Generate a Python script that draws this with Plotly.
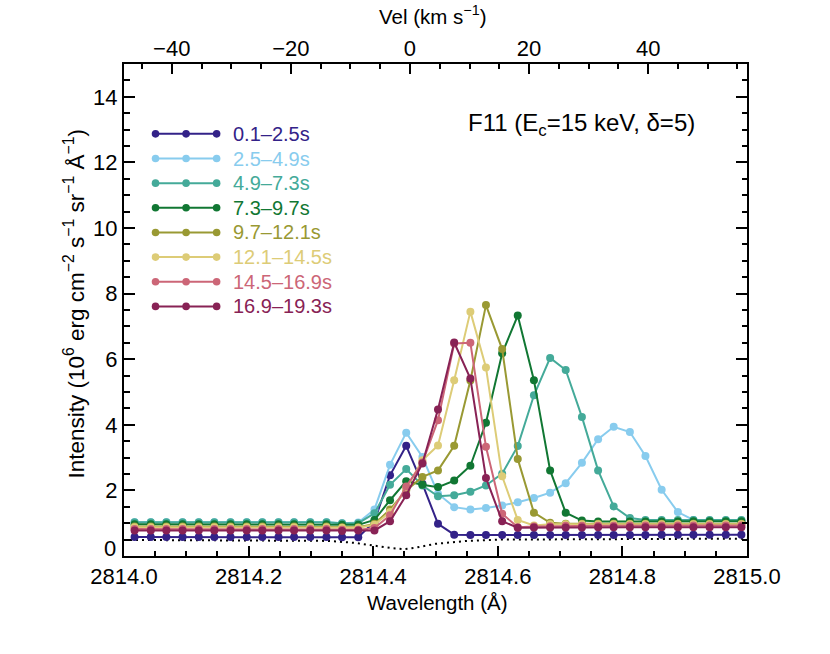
import plotly.graph_objects as go

# wavelength grid of the spectra (Angstrom)
wave = [2814.017, 2814.043, 2814.068, 2814.094, 2814.120, 2814.145, 2814.171,
        2814.197, 2814.222, 2814.248, 2814.273, 2814.299, 2814.325, 2814.350,
        2814.376, 2814.402, 2814.427, 2814.453, 2814.479, 2814.504, 2814.530,
        2814.556, 2814.581, 2814.607, 2814.632, 2814.658, 2814.684, 2814.709,
        2814.735, 2814.761, 2814.786, 2814.812, 2814.837, 2814.863, 2814.889,
        2814.914, 2814.940, 2814.966, 2814.991]

labels = ["0.1\u20132.5s", "2.5\u20134.9s", "4.9\u20137.3s", "7.3\u20139.7s",
          "9.7\u201312.1s", "12.1\u201314.5s", "14.5\u201316.9s", "16.9\u201319.3s"]
colors = ["#332288", "#88CCEE", "#44AA99", "#117733",
          "#999933", "#DDCC77", "#CC6677", "#882255"]

# intensities, 1e6 erg cm-2 s-1 sr-1 A-1
t01 = [0.58] * 13 + [0.57, 0.57, 1.05, 2.46, 3.36, 2.20, 0.98, 0.65, 0.64, 0.64,
       0.64, 0.64, 0.64, 0.64, 0.64, 0.64, 0.64, 0.64, 0.64, 0.64, 0.65, 0.65,
       0.65, 0.65, 0.65, 0.65]
t02 = [1.03] * 13 + [1.00, 1.02, 1.42, 2.78, 3.76, 3.02, 1.90, 1.49, 1.42, 1.46,
       1.54, 1.64, 1.77, 1.93, 2.22, 2.84, 3.56, 3.94, 3.78, 3.05, 2.02, 1.34,
       1.10, 1.08, 1.08, 1.08]
t03 = [1.03] * 13 + [1.00, 1.00, 1.30, 2.17, 2.65, 2.15, 1.82, 1.85, 1.96, 2.15,
       2.51, 3.35, 4.90, 6.04, 5.67, 4.24, 2.61, 1.51, 1.16, 1.10, 1.10, 1.10,
       1.10, 1.10, 1.10, 1.10]
t04 = [0.97] * 13 + [0.95, 0.95, 1.10, 1.70, 2.28, 2.17, 2.10, 2.30, 2.75, 4.06,
       6.18, 7.33, 5.36, 2.61, 1.32, 1.08, 1.05, 1.05, 1.05, 1.05, 1.05, 1.05,
       1.06, 1.06, 1.06, 1.06]
t05 = [0.90] * 13 + [0.88, 0.88, 0.98, 1.42, 2.00, 2.41, 2.61, 3.36, 5.35, 7.65,
       6.31, 2.96, 1.32, 1.01, 0.98, 0.98, 0.98, 0.98, 0.98, 0.98, 0.98, 0.98,
       0.98, 0.98, 0.98, 0.98]
t06 = [0.88] * 13 + [0.86, 0.86, 0.95, 1.34, 2.05, 2.92, 3.37, 5.36, 7.45, 5.75,
       2.43, 1.10, 0.93, 0.97, 0.97, 0.97, 0.97, 0.97, 0.97, 0.97, 0.97, 0.97,
       0.97, 0.97, 0.97, 0.97]
t07 = [0.82] * 13 + [0.80, 0.80, 0.85, 1.24, 2.12, 2.85, 4.14, 6.48, 6.50, 3.33,
       1.29, 0.88, 0.90, 0.91, 0.92, 0.92, 0.92, 0.92, 0.93, 0.93, 0.93, 0.93,
       0.93, 0.93, 0.93, 0.93]
t08 = [0.78] * 13 + [0.76, 0.78, 0.78, 1.06, 1.85, 2.82, 4.47, 6.51, 5.41, 2.38,
       1.06, 0.86, 0.87, 0.87, 0.87, 0.87, 0.88, 0.88, 0.88, 0.88, 0.88, 0.88,
       0.88, 0.88, 0.88, 0.88]
series = [t01, t02, t03, t04, t05, t06, t07, t08]

# dotted reference profile
dot_wave = [2814.00, 2814.20, 2814.33, 2814.37, 2814.40, 2814.43, 2814.45,
            2814.47, 2814.50, 2814.55, 2814.60, 2814.80, 2815.00]
dot_int = [0.49, 0.48, 0.46, 0.40, 0.32, 0.24, 0.21, 0.26, 0.37, 0.46, 0.50,
           0.52, 0.53]

wave_ticks = [2814.0, 2814.2, 2814.4, 2814.6, 2814.8, 2815.0]
vel_ticks = [-40, -20, 0, 20, 40]
int_ticks = [0, 2, 4, 6, 8, 10, 12, 14]

FAMILY = "Liberation Sans, Arial, Helvetica, sans-serif"
TICKFONT = dict(family=FAMILY, size=22, color="black")

fig = go.Figure()

fig.add_trace(go.Scatter(x=dot_wave, y=dot_int, mode="lines",
                         line=dict(color="black", width=2, dash="2px,4px"),
                         showlegend=False, hoverinfo="skip"))

for name, col, ys in zip(labels, colors, series):
    fig.add_trace(go.Scatter(x=wave, y=ys, mode="lines+markers", name=name,
                             line=dict(color=col, width=2),
                             marker=dict(color=col, size=8),
                             showlegend=False))

# hand-made legend: line with three dots, coloured label
leg_x0, leg_x1, leg_y0, leg_dy = 0.0506, 0.1487, 0.858, 0.0501
for i, (name, col) in enumerate(zip(labels, colors)):
    yy = leg_y0 - i * leg_dy
    fig.add_shape(type="line", xref="paper", yref="paper",
                  x0=leg_x0, x1=leg_x1, y0=yy, y1=yy,
                  line=dict(color=col, width=2))
    for xx in (leg_x0, (leg_x0 + leg_x1) / 2, leg_x1):
        fig.add_shape(type="circle", xref="paper", yref="paper",
                      xsizemode="pixel", ysizemode="pixel",
                      xanchor=xx, yanchor=yy, x0=-3.8, x1=3.8, y0=-3.8, y1=3.8,
                      fillcolor=col, line=dict(color=col, width=0))
    fig.add_annotation(x=0.171, y=yy, xref="paper", yref="paper",
                       text=name, showarrow=False, xanchor="left", yanchor="middle",
                       font=dict(family=FAMILY, size=20, color=col))

fig.add_annotation(x=0.920, y=0.877, xref="paper", yref="paper", showarrow=False,
                   xanchor="right", yanchor="middle",
                   text="F11 (E<sub>c</sub>=15 keV, \u03b4=5)",
                   font=dict(family=FAMILY, size=24, color="black"))

# axis titles
fig.add_annotation(x=-0.0796, y=0.514, xref="paper", yref="paper", showarrow=False,
                   textangle=-90, xanchor="center", yanchor="middle",
                   text="Intensity (10<sup>6</sup> erg cm<sup>\u22122</sup> s<sup>\u22121</sup> "
                        "sr<sup>\u22121</sup> \u00c5<sup>\u22121</sup>)",
                   font=dict(family=FAMILY, size=22.5, color="black"))
fig.add_annotation(x=0.504, y=-0.094, xref="paper", yref="paper", showarrow=False,
                   xanchor="center", yanchor="middle", text="Wavelength (\u00c5)",
                   font=dict(family=FAMILY, size=20.5, color="black"))
fig.add_annotation(x=0.495, y=1.099, xref="paper", yref="paper", showarrow=False,
                   xanchor="center", yanchor="middle", text="Vel (km s<sup>\u22121</sup>)",
                   font=dict(family=FAMILY, size=20.5, color="black"))

# the "0" label sits a little above its tick in the original
fig.add_annotation(x=0, y=0.23, xref="paper", yref="y", showarrow=False,
                   xanchor="right", yanchor="middle", xshift=-6, text="0",
                   font=TICKFONT)

tick_common = dict(ticks="inside", tickwidth=1.5, tickcolor="black",
                   showline=True, linecolor="black", linewidth=2,
                   showgrid=False, zeroline=False, tickfont=TICKFONT)

fig.update_layout(
    width=830, height=654,
    margin=dict(l=124, r=83, t=64, b=98),
    paper_bgcolor="white", plot_bgcolor="white",
    showlegend=False,
    xaxis=dict(range=[2814.0, 2815.0], tickvals=wave_ticks,
               ticktext=[f"{v:.1f}" for v in wave_ticks], ticklen=10,
               minor=dict(dtick=0.05, ticks="inside", ticklen=5, tickwidth=1.5, tickcolor="black"),
               mirror=False, ticklabelstandoff=0, **tick_common),
    xaxis2=dict(overlaying="x", side="top", anchor="y", range=[-48.02, 56.6],
                tickvals=vel_ticks, ticklen=10,
                minor=dict(dtick=5, ticks="inside", ticklen=5, tickwidth=1.5, tickcolor="black"),
                ticklabelstandoff=-3, **tick_common),
    yaxis=dict(range=[0, 15], tickvals=int_ticks,
               ticktext=["" if v == 0 else str(v) for v in int_ticks], ticklen=11,
               minor=dict(dtick=0.5, ticks="inside", ticklen=5.5, tickwidth=1.5, tickcolor="black"),
               mirror="ticks", ticklabelstandoff=0, **tick_common),
)

# empty trace so the velocity axis is drawn
fig.add_trace(go.Scatter(x=[], y=[], xaxis="x2", yaxis="y", showlegend=False))

# drop the default page margin so the figure sits at the window corner
fig.write_html("out.html", config={"displayModeBar": False},
               post_script="document.body.style.margin='0px';")
